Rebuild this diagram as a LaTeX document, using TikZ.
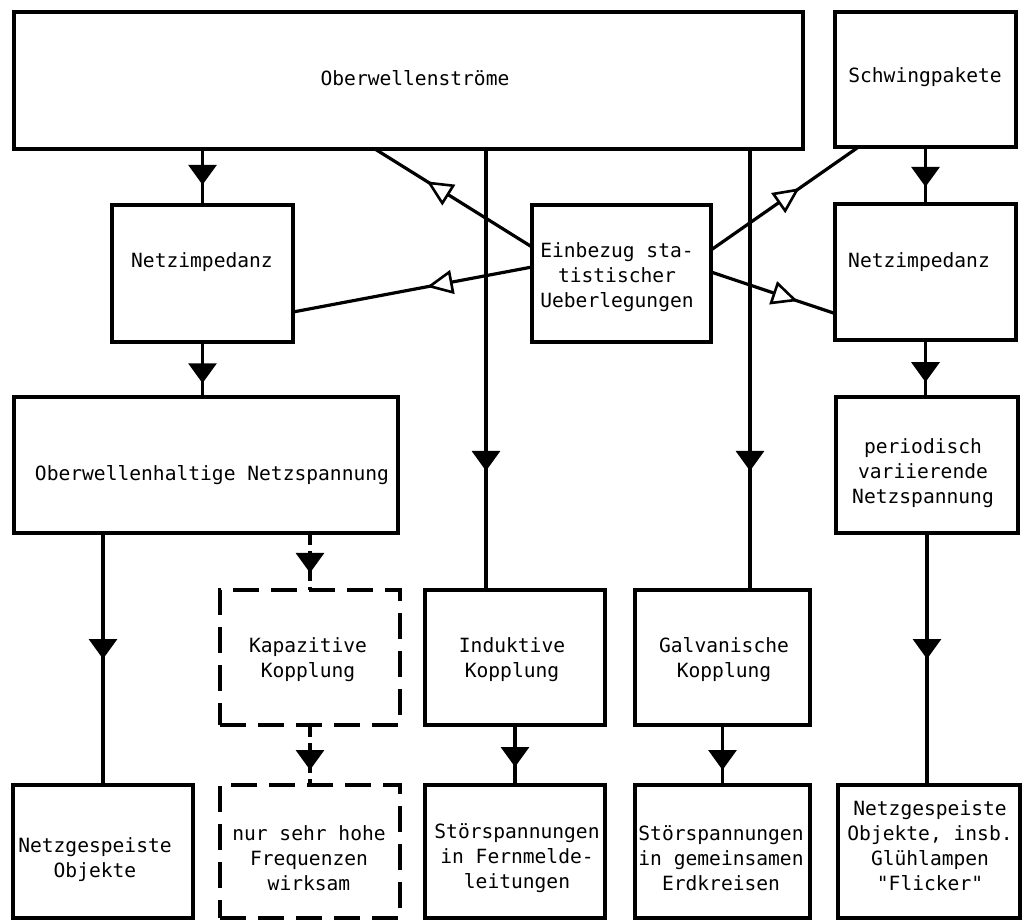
\documentclass[tikz,border=0pt]{standalone}
\usepackage{fontspec}
\newfontfamily\tw{DejaVu Sans Mono}
\usetikzlibrary{arrows.meta,decorations.markings}
\begin{document}
\begin{tikzpicture}[x=1pt,y=-1pt,
  box/.style={draw, line width=4pt, rectangle, inner sep=0pt, outer sep=0pt},
  dbox/.style={box, dash pattern=on 26pt off 12pt},
  lbl/.style={font=\tw\fontsize{19.6}{25}\selectfont, align=center, inner sep=0pt},
  conn/.style={line width=3.2pt},
  dconn/.style={conn, dash pattern=on 12pt off 6pt},
  fillarrow/.style={postaction={decorate,decoration={markings,
      mark=at position #1 with {\arrow{Triangle[width=28pt,length=20pt]}}}}},
  openarrow/.style={postaction={decorate,decoration={markings,
      mark=at position #1 with {\arrow{Triangle[open,width=24pt,length=26pt,line width=2.6pt,fill=white]}}}}}
]
\useasboundingbox (0,0) rectangle (1025,919);
\fill[white] (0,0) rectangle (1025,919);

% boxes
\node[box, minimum width=789pt, minimum height=137pt] (ober) at (408.5,80.5) {};
\node[box, minimum width=181pt, minimum height=135pt] (schw) at (925.5,79.5) {};
\node[box, minimum width=181pt, minimum height=137pt] (netzL) at (202.5,273.5) {};
\node[box, minimum width=179pt, minimum height=137pt] (ein) at (621.5,273.5) {};
\node[box, minimum width=181pt, minimum height=136pt] (netzR) at (925.5,272) {};
\node[box, minimum width=384pt, minimum height=136pt] (oberh) at (206,465) {};
\node[box, minimum width=182pt, minimum height=136pt] (per) at (927,465) {};
\node[dbox, minimum width=180pt, minimum height=135pt] (kap) at (310,657.5) {};
\node[box, minimum width=180pt, minimum height=135pt] (ind) at (515,657.5) {};
\node[box, minimum width=175pt, minimum height=135pt] (galv) at (722.5,657.5) {};
\node[box, minimum width=180pt, minimum height=133pt] (netzObj) at (103,851.5) {};
\node[dbox, minimum width=180pt, minimum height=133pt] (nur) at (310,851.5) {};
\node[box, minimum width=180pt, minimum height=133pt] (stor1) at (515,851.5) {};
\node[box, minimum width=175pt, minimum height=133pt] (stor2) at (722.5,851.5) {};
\node[box, minimum width=182pt, minimum height=133pt] (netz2) at (929,851.5) {};

% texts
\node[lbl] (t-ober) at (415,78) {Oberwellenströme};
\node[lbl] (t-schw) at (925,77) {Schwingpakete};
\node[lbl] (t-netzL) at (202,262) {Netzimpedanz};
\node[lbl] (t-ein) at (617,277) {Einbezug sta-\\tistischer\\Ueberlegungen};
\node[lbl] (t-netzR) at (919,262) {Netzimpedanz};
\node[lbl] (t-oberh) at (212,475) {Oberwellenhaltige Netzspannung};
\node[lbl] (t-per) at (923,473) {periodisch\\variierende\\Netzspannung};
\node[lbl] (t-kap) at (308,660) {Kapazitive\\Kopplung};
\node[lbl] (t-ind) at (512,660) {Induktive\\Kopplung};
\node[lbl] (t-galv) at (724,660) {Galvanische\\Kopplung};
\node[lbl] (t-netzObj) at (95,860) {Netzgespeiste\\Objekte};
\node[lbl] (t-nur) at (309,858) {nur sehr hohe\\Frequenzen\\wirksam};
\node[lbl] (t-stor1) at (517,858) {Störspannungen\\in Fernmelde-\\leitungen};
\node[lbl] (t-stor2) at (721,858) {Störspannungen\\in gemeinsamen\\Erdkreisen};
\node[lbl] (t-netz2) at (930,846) {Netzgespeiste\\Objekte, insb.\\Glühlampen\\"Flicker"};

% helper coordinates
\coordinate (indtop) at ([xshift=-29pt]ind.north);
\coordinate (galvtop) at ([xshift=27.5pt]galv.north);

% filled-arrow connectors
\draw[conn, fillarrow=0.64] (ober.south -| netzL.north) -- (netzL.north);
\draw[conn, fillarrow=0.75] (netzL.south) -- (netzL.south |- oberh.north);
\draw[conn, fillarrow=0.5] (netzObj.north |- oberh.south) -- (netzObj.north);
\draw[dconn, fillarrow=0.7] (kap.north |- oberh.south) -- (kap.north);
\draw[dconn, fillarrow=0.75] (kap.south) -- (nur.north);
\draw[conn, fillarrow=0.73] (indtop |- ober.south) -- (indtop);
\draw[conn, fillarrow=0.73] (galvtop |- ober.south) -- (galvtop);
\draw[conn, fillarrow=0.7] (ind.south) -- (stor1.north);
\draw[conn, fillarrow=0.75] (galv.south) -- (stor2.north);
\draw[conn, fillarrow=0.7] (schw.south) -- (schw.south |- netzR.north);
\draw[conn, fillarrow=0.74] (netzR.south) -- (netzR.south |- per.north);
\draw[conn, fillarrow=0.5] (per.south) -- (per.south |- netz2.north);

% open-arrow connectors from Einbezug
\draw[conn, openarrow=0.67] ([yshift=26.5pt]ein.west) -- ([xshift=-33.5pt]ober.south);
\draw[conn, openarrow=0.44] ([yshift=6.5pt]ein.west) -- ([yshift=-38.5pt]netzL.east);
\draw[conn, openarrow=0.6] ([yshift=23.5pt]ein.east) -- ([xshift=-67pt]schw.south);
\draw[conn, openarrow=0.7] ([yshift=1.5pt]ein.east) -- ([yshift=-41.5pt]netzR.west);
\end{tikzpicture}
\end{document}
